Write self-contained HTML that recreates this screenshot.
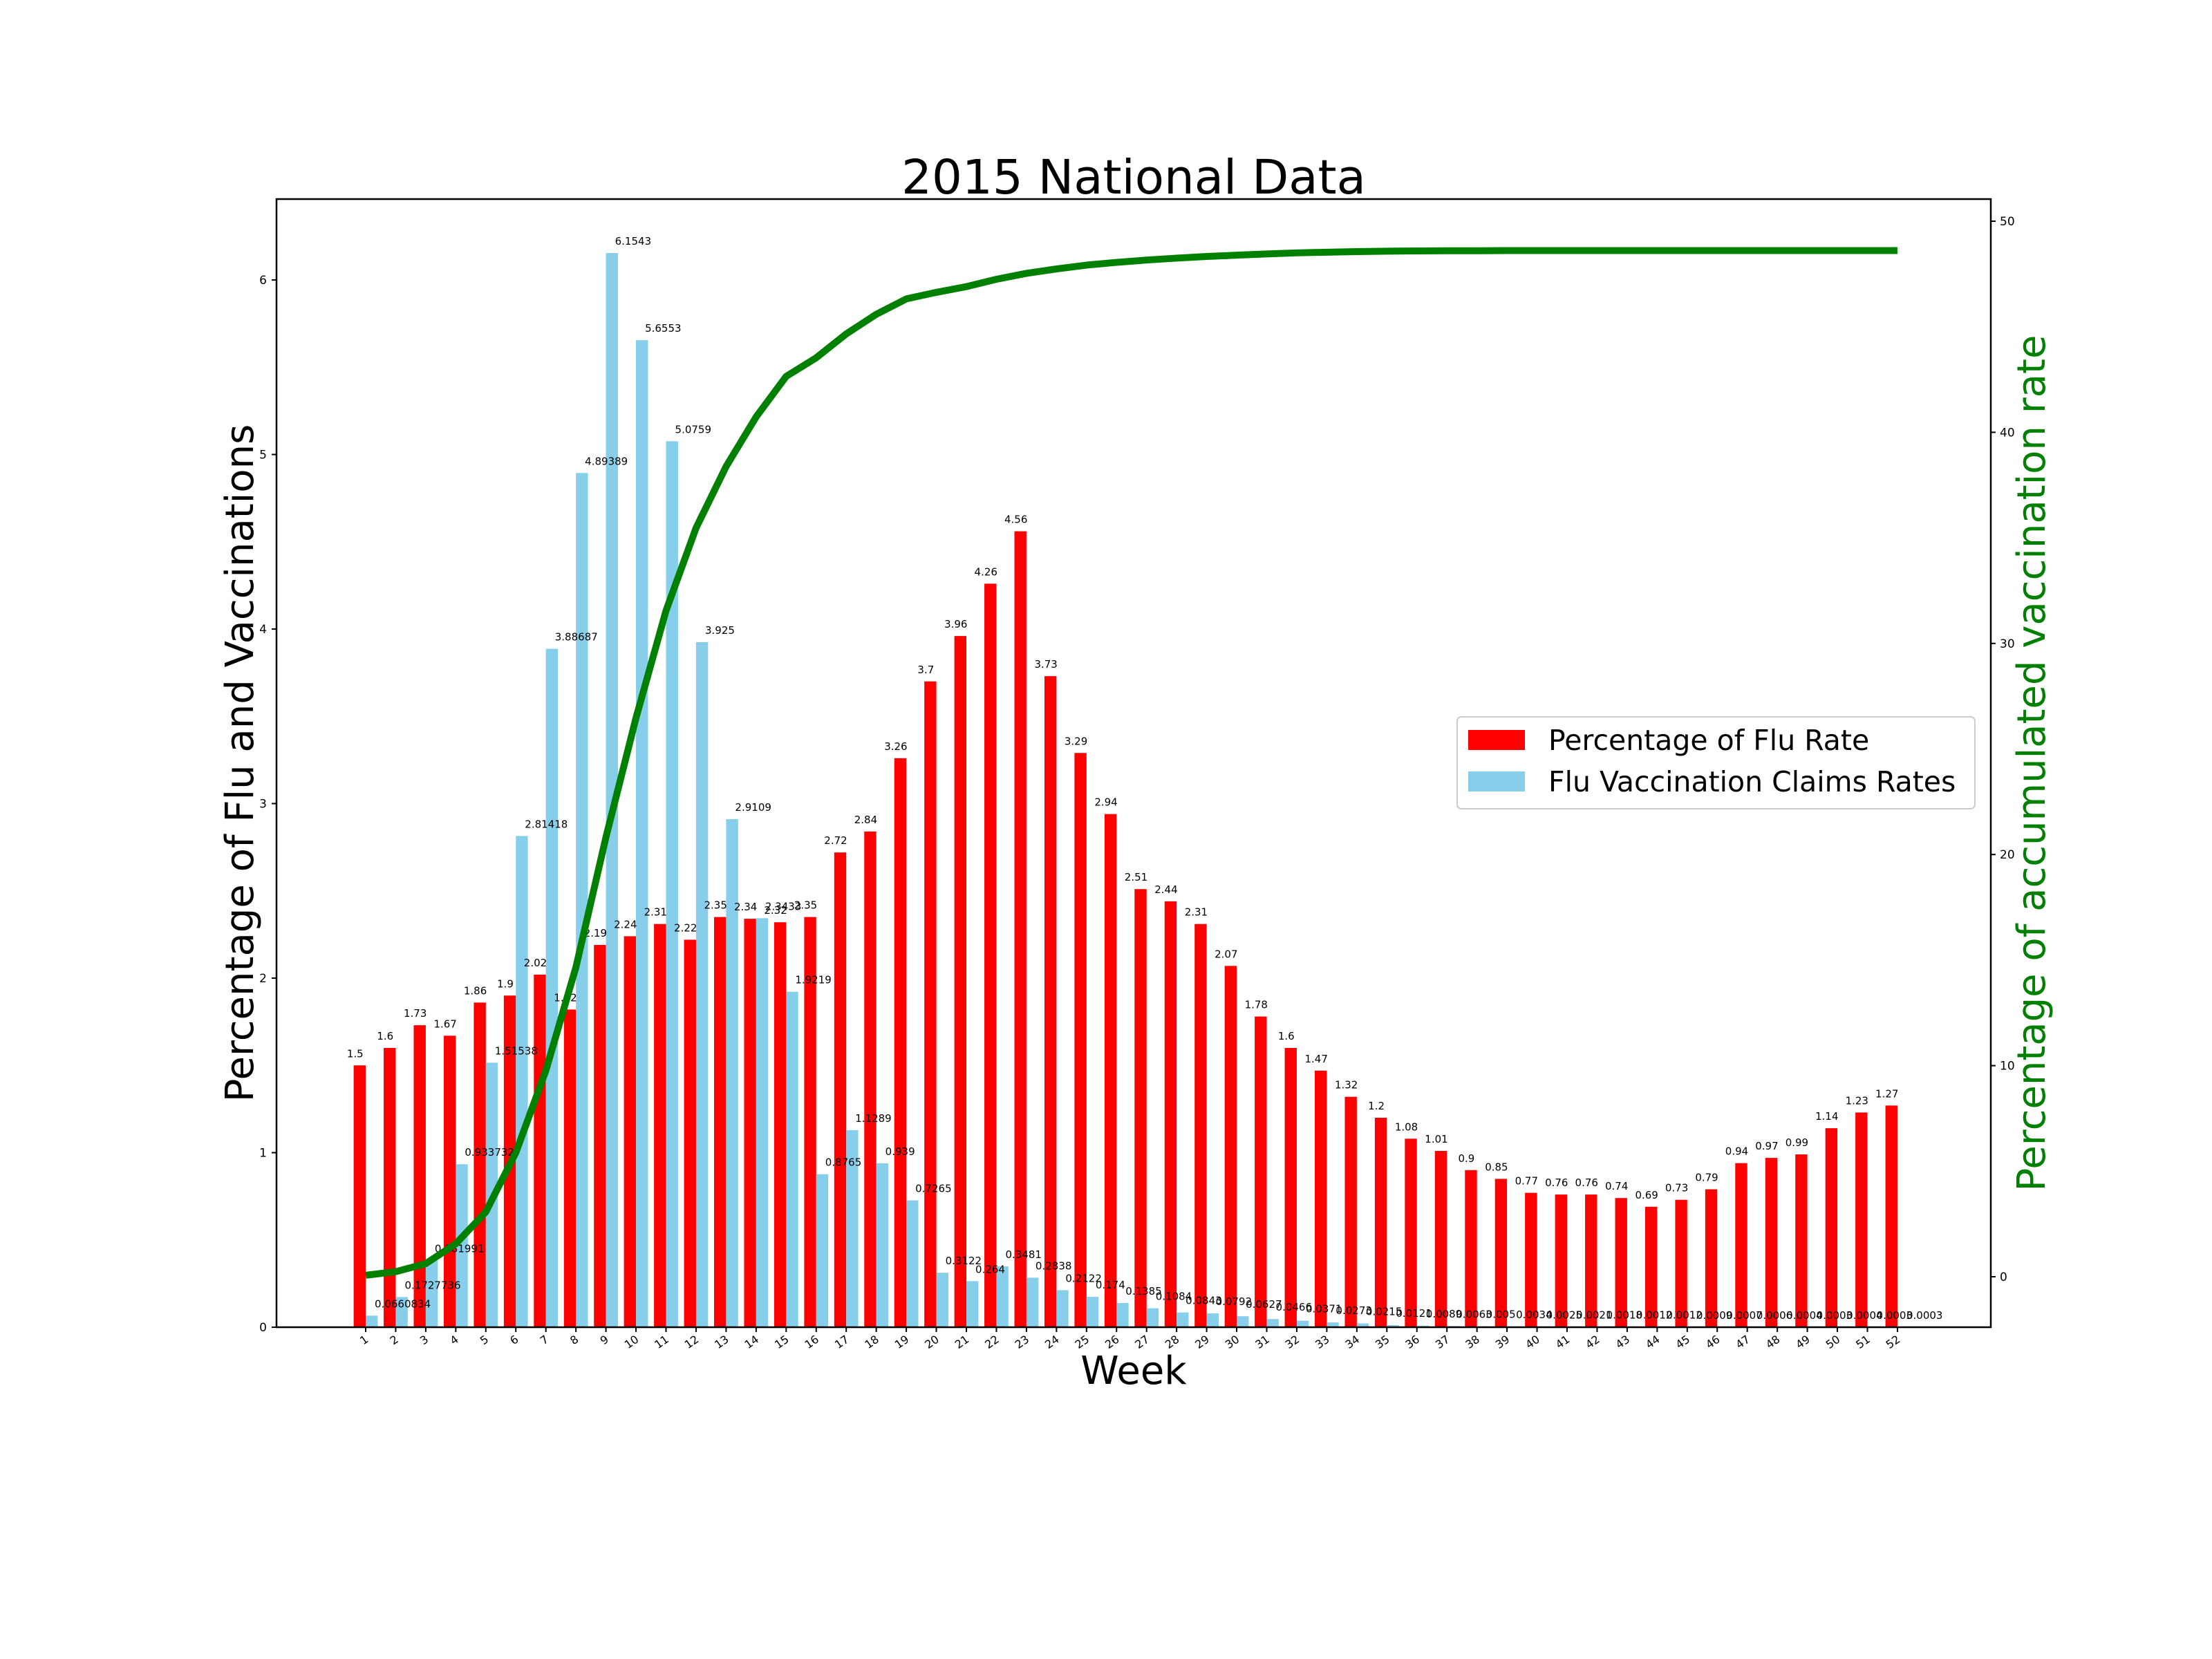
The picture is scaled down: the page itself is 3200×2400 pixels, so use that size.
<!DOCTYPE html>
<html><head><meta charset="utf-8"><style>
html,body{margin:0;padding:0;background:#fff;}
svg{display:block;font-family:"DejaVu Sans","Liberation Sans",sans-serif;}
</style></head><body>
<svg id="chart" width="3200" height="2400" viewBox="0 0 3200 2400" xmlns="http://www.w3.org/2000/svg">
<rect width="3200" height="2400" fill="#fff"/>
<text x="1640" y="280" font-size="69" text-anchor="middle">2015 National Data</text>
<g id="bars"></g>
<g id="labels"></g>
<g id="line"></g>
<rect x="400" y="288" width="2480" height="1632" fill="none" stroke="#000" stroke-width="2.5"/>
<g id="axes"></g>
<text x="1640" y="2002" font-size="56" text-anchor="middle">Week</text>
<text transform="translate(366,1104) rotate(-90)" font-size="56" text-anchor="middle">Percentage of Flu and Vaccinations</text>
<text transform="translate(2958,1104) rotate(-90)" font-size="56" fill="#008000" text-anchor="middle">Percentage of accumulated vaccination rate</text>
<g>
<rect x="2108" y="1037" width="749" height="133" rx="6" fill="#fff" fill-opacity="0.8" stroke="#ccc" stroke-width="2"/>
<rect x="2124" y="1056" width="82" height="29" fill="#ff0000"/>
<text x="2240" y="1085" font-size="41">Percentage of Flu Rate</text>
<rect x="2124" y="1116" width="82" height="29" fill="#87ceeb"/>
<text x="2240" y="1145" font-size="41">Flu Vaccination Claims Rates</text>
</g>
</svg>
<script>
const weeks = [1,2,3,4,5,6,7,8,9,10,11,12,13,14,15,16,17,18,19,20,21,22,23,24,25,26,27,28,29,30,31,32,33,34,35,36,37,38,39,40,41,42,43,44,45,46,47,48,49,50,51,52];
const fluRate = [1.5,1.6,1.73,1.67,1.86,1.9,2.02,1.82,2.19,2.24,2.31,2.22,2.35,2.34,2.32,2.35,2.72,2.84,3.26,3.7,3.96,4.26,4.56,3.73,3.29,2.94,2.51,2.44,2.31,2.07,1.78,1.6,1.47,1.32,1.2,1.08,1.01,0.9,0.85,0.77,0.76,0.76,0.74,0.69,0.73,0.79,0.94,0.97,0.99,1.14,1.23,1.27];
const vaccRate = [0.0660834,0.1727736,0.381991,0.933732,1.51538,2.81418,3.88687,4.89389,6.1543,5.6553,5.0759,3.925,2.9109,2.3433,1.9219,0.8765,1.1289,0.939,0.7265,0.3122,0.264,0.3481,0.2838,0.2122,0.174,0.1385,0.1084,0.0843,0.0792,0.0627,0.0466,0.0371,0.0273,0.0215,0.0121,0.0089,0.0063,0.005,0.0034,0.0025,0.0021,0.0018,0.0012,0.0012,0.0009,0.0007,0.0006,0.0004,0.0003,0.0004,0.0003,0.0003];
const accumRate = [0.07,0.24,0.62,1.56,3.07,5.88,9.77,14.66,20.82,26.47,31.55,35.47,38.38,40.73,42.65,43.53,44.66,45.59,46.32,46.63,46.9,47.25,47.53,47.74,47.92,48.05,48.16,48.25,48.33,48.39,48.45,48.5,48.53,48.56,48.58,48.59,48.6,48.6,48.61,48.61,48.61,48.61,48.61,48.61,48.61,48.61,48.61,48.61,48.61,48.61,48.61,48.61];
const leftTicks = [0,1,2,3,4,5,6];
const rightTicks = [0,10,20,30,40,50];

const NS = "http://www.w3.org/2000/svg";
const STEP = 43.45;
const X = w => 529 + (w - 1) * STEP;
const YL = v => 1920 - v * 252.5;
const YR = v => 1847 - v * 30.54;
const BW = 0.4 * STEP;
function mk(tag, attrs, parent, txt) {
  const e = document.createElementNS(NS, tag);
  for (const k in attrs) e.setAttribute(k, attrs[k]);
  if (txt !== undefined) e.textContent = txt;
  parent.appendChild(e);
  return e;
}
const bars = document.getElementById('bars');
const labels = document.getElementById('labels');
weeks.forEach((w, i) => {
  const r = mk('rect', {x: X(w) - BW, y: YL(fluRate[i]), width: BW, height: 1920 - YL(fluRate[i]), fill: '#ff0000'}, bars);
  
  
  const b = mk('rect', {x: X(w), y: YL(vaccRate[i]), width: BW, height: 1920 - YL(vaccRate[i]), fill: '#87ceeb'}, bars);
  
  
  const t1 = mk('text', {x: X(w) - 0.35 * STEP, y: YL(fluRate[i]) - 12, 'font-size': 15, 'text-anchor': 'middle'}, labels, String(fluRate[i]));
  
  
  const t2 = mk('text', {x: X(w) + 0.3 * STEP, y: YL(vaccRate[i]) - 12, 'font-size': 15, 'text-anchor': 'start'}, labels, String(vaccRate[i]));
  
  
});
const line = document.getElementById('line');
const pts = weeks.map((w, i) => X(w) + ',' + YR(accumRate[i])).join(' ');
const pl = mk('polyline', {points: pts, fill: 'none', stroke: '#008000', 'stroke-width': 10, 'stroke-linejoin': 'round'}, line);



const axes = document.getElementById('axes');
leftTicks.forEach(v => {
  const l = mk('line', {x1: 393, x2: 400, y1: YL(v), y2: YL(v), stroke: '#000', 'stroke-width': 2}, axes);
  
  
  const t = mk('text', {x: 386, y: YL(v) + 6, 'font-size': 17, 'text-anchor': 'end'}, axes, String(v));
  
  
});
rightTicks.forEach(v => {
  const l = mk('line', {x1: 2880, x2: 2887, y1: YR(v), y2: YR(v), stroke: '#000', 'stroke-width': 2}, axes);
  
  
  const t = mk('text', {x: 2893, y: YR(v) + 6, 'font-size': 17, 'text-anchor': 'start'}, axes, String(v));
  
  
});
weeks.forEach(w => {
  const l = mk('line', {x1: X(w), x2: X(w), y1: 1920, y2: 1927, stroke: '#000', 'stroke-width': 2}, axes);
  
  
  const t = mk('text', {x: 0, y: 0, 'font-size': 16, 'text-anchor': 'end', transform: 'translate(' + (X(w) + 5) + ',1940) rotate(-35)'}, axes, String(w));
  
  
});
</script>
</body></html>
